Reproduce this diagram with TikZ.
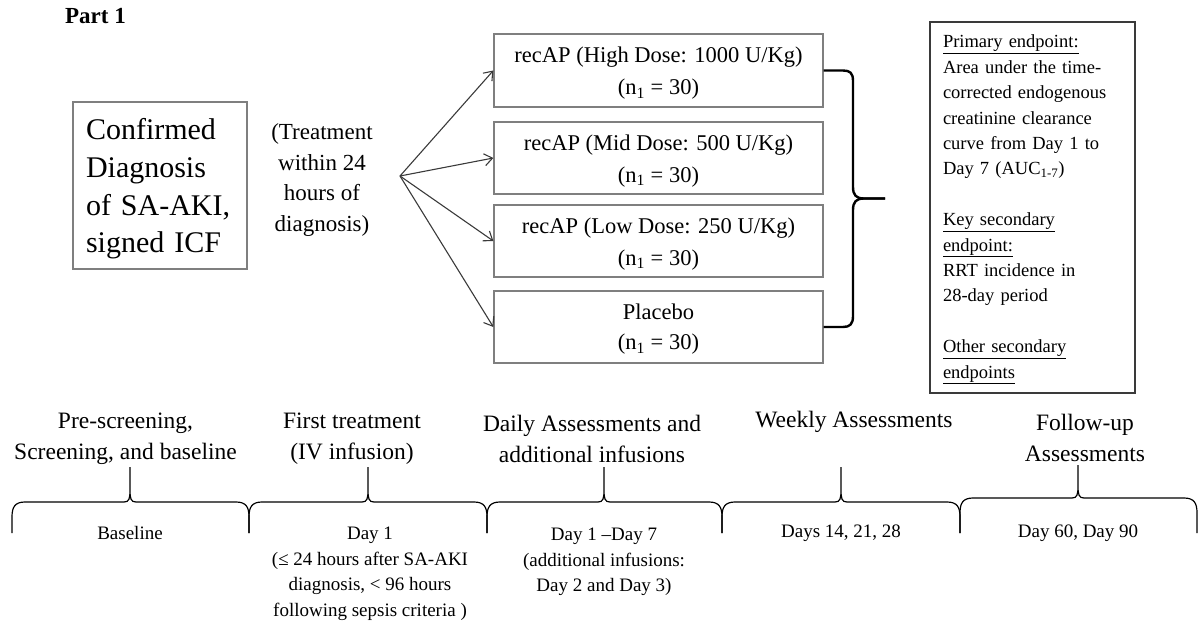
\documentclass[tikz,border=0pt]{standalone}
\usepackage{fontspec}
\setmainfont{Liberation Serif}
\usetikzlibrary{arrows.meta}

\definecolor{boxgray}{HTML}{7F7F7F}
\definecolor{inkgray}{HTML}{3A3A3A}

% curly brace over one study phase: left end, tip, right end, line height, tip top
\newcommand\phasebrace[5]{%
  \draw[phasebr] (#1,533) -- (#1,#4+15) .. controls (#1,#4+5) and (#1+3,#4) .. (#1+13,#4)
      -- (#2-6,#4) .. controls (#2-1,#4) and (#2,#4-3) .. (#2,#4-12) -- (#2,#5)
      (#2,#5) -- (#2,#4-12) .. controls (#2,#4-3) and (#2+1,#4) .. (#2+6,#4)
      -- (#3-13,#4) .. controls (#3-3,#4) and (#3,#4+5) .. (#3,#4+15) -- (#3,533);
}

\begin{document}
\begin{tikzpicture}[x=1pt,y=-1pt,
  diagbox/.style={draw=boxgray, line width=1.3pt, minimum width=174pt, minimum height=167pt,
    text width=148pt, inner xsep=13pt, align=left, font=\fontsize{30}{37.7}\selectfont},
  notetext/.style={align=center, inner sep=0pt, font=\fontsize{23}{30.5}\selectfont},
  armbox/.style={draw=boxgray, line width=1.3pt, minimum width=329pt, minimum height=72pt,
    inner sep=0pt, align=center, font=\fontsize{22.5}{32}\selectfont},
  armtext/.style={align=center, inner sep=0pt, font=\fontsize{22.5}{32}\selectfont},
  armarrow/.style={draw=inkgray, line width=1.1pt, -{Straight Barb[length=8pt,width=12pt]}},
  bigbrace/.style={draw=black, line width=2.4pt, line join=round},
  endbox/.style={draw=inkgray, line width=1.4pt, minimum width=205pt, minimum height=371pt},
  endtext/.style={text width=181pt, inner sep=0pt, align=left, font=\fontsize{18.5}{25.4}\selectfont},
  phasehead/.style={align=center, inner sep=0pt, font=\fontsize{23.5}{31}\selectfont},
  stamp/.style={align=center, inner sep=0pt, font=\fontsize{19}{25.5}\selectfont},
  phasebr/.style={draw=black, line width=1.2pt, line join=round}]

\useasboundingbox (0,0) rectangle (1199,623);

\node[inner sep=0pt, font=\fontsize{23}{28}\selectfont\bfseries] (part) at (95.5,16) {Part 1};

% enrolment and randomisation
\node[diagbox] (diag) at (160,185.5) {};
\node[align=left, inner sep=0pt, text width=148pt, font=\fontsize{30}{37.7}\selectfont]
  (diagtext) at (160,189) {Confirmed\\Diagnosis\\of SA-AKI,\\signed ICF};
\node[notetext] (note) at (322,180) {(Treatment\\within 24\\hours of\\diagnosis)};
\coordinate (fork) at (400,176);

\node[armbox, minimum height=73pt] (hi) at (658.5,70.5) {};
\node[armbox] (mid) at (658.5,158) {};
\node[armbox] (lo) at (658.5,241) {};
\node[armbox] (pl) at (658.5,327) {};
\node[armtext] (hitext) at (658.5,73.5) {recAP (High Dose: 1000 U/Kg)\\(n\textsubscript{1} = 30)};
\node[armtext] (midtext) at (658.5,161) {recAP (Mid Dose: 500 U/Kg)\\(n\textsubscript{1} = 30)};
\node[armtext] (lotext) at (658.5,244) {recAP (Low Dose: 250 U/Kg)\\(n\textsubscript{1} = 30)};
\node[armtext, font=\fontsize{22.5}{30}\selectfont] (pltext) at (658.5,329.5) {Placebo\\(n\textsubscript{1} = 30)};

\draw[armarrow] (fork) -- (hi.west);
\draw[armarrow] (fork) -- (mid.west);
\draw[armarrow] (fork) -- (lo.west);
\draw[armarrow] (fork) -- (pl.west);

% brace gathering the four arms
\coordinate (join) at (885,198.5);
\draw[bigbrace] (hi.east) -- (843,70.5) .. controls (850,70.5) and (853,73) .. (853,81)
  -- (853,187) .. controls (853,195) and (856,198.5) .. (864,198.5) -- (join);
\draw[bigbrace] (pl.east) -- (843,327) .. controls (850,327) and (853,324) .. (853,316)
  -- (853,210) .. controls (853,202) and (856,198.5) .. (864,198.5) -- (join);

% endpoints
\node[endbox] (ends) at (1032.5,207.5) {};
\node[endtext] (endstext) at (1033.5,209.5) {\underline{Primary endpoint:}\\
Area under the time-\\
corrected endogenous\\
creatinine clearance\\
curve from Day 1 to\\
Day 7 (AUC\textsubscript{1-7})\\[25.4pt]
\underline{Key secondary}\\
\underline{endpoint:}\\
RRT incidence in\\
28-day period\\[25.4pt]
\underline{Other secondary}\\
\underline{endpoints}};

% study timeline
\node[phasehead] (h1) at (125.5,439) {Pre-screening,\\Screening, and baseline};
\node[phasehead] (h2) at (352,439) {First treatment\\(IV infusion)};
\node[phasehead] (h3) at (592,438.5) {Daily Assessments and\\additional infusions};
\node[phasehead] (h4) at (854,422) {Weekly Assessments};
\node[phasehead] (h5) at (1085,437.5) {Follow-up\\Assessments};

\phasebrace{12}{130}{249}{502}{467}
\phasebrace{249}{368}{487}{502}{467}
\phasebrace{487}{604}{722}{502}{467}
\phasebrace{722}{841}{960}{502}{467}
\phasebrace{960}{1078}{1197}{498}{465}

\node[stamp] (l1) at (130,533) {Baseline};
\node[stamp] (l2) at (370,574) {Day 1\\(≤ 24 hours after SA-AKI\\diagnosis, < 96 hours\\following sepsis criteria )};
\node[stamp] (l3) at (604,562) {Day 1 –Day 7\\(additional infusions:\\Day 2 and Day 3)};
\node[stamp] (l4) at (841,533) {Days 14, 21, 28};
\node[stamp] (l5) at (1078,533) {Day 60, Day 90};

\end{tikzpicture}
\end{document}
